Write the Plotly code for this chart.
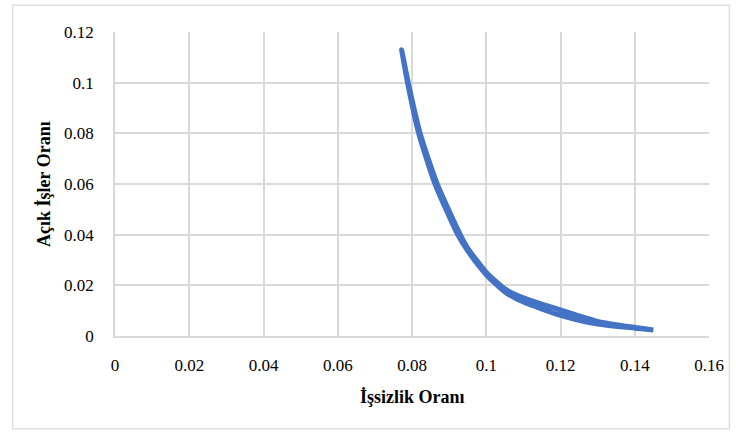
import plotly.graph_objects as go

# Branch going down (upper/right edge of the band)
x_down = [0.0772, 0.0790, 0.0822, 0.0868, 0.0930, 0.0950, 0.1000, 0.1050, 0.1100, 0.1200, 0.1300, 0.1400, 0.1450]
y_down = [0.1130, 0.1000, 0.0800, 0.0600, 0.0400, 0.0347, 0.0252, 0.0186, 0.0151, 0.0103, 0.0058, 0.0034, 0.0024]
# Branch coming back (lower/left edge of the band)
x_back = [0.1450, 0.1400, 0.1300, 0.1200, 0.1100, 0.1050, 0.1000, 0.0950, 0.0925, 0.0862, 0.0818, 0.0788, 0.0772]
y_back = [0.0024, 0.0031, 0.0047, 0.0082, 0.0134, 0.0174, 0.0242, 0.0336, 0.0395, 0.0600, 0.0800, 0.1000, 0.1130]

x_ticks = [0, 0.02, 0.04, 0.06, 0.08, 0.1, 0.12, 0.14, 0.16]
x_tick_labels = ["0", "0.02", "0.04", "0.06", "0.08", "0.1", "0.12", "0.14", "0.16"]
y_ticks = [0, 0.02, 0.04, 0.06, 0.08, 0.1, 0.12]
y_tick_labels = ["0", "0.02", "0.04", "0.06", "0.08", "0.1", "0.12"]

x_title = "İşsizlik Oranı"
y_title = "Açık İşler Oranı"

FONT = "Book Antiqua, Palatino Linotype, Liberation Serif, serif"
BLUE = "#4472C4"
GRID = "#D9D9D9"

L, R, T, B = 115, 23, 32, 95.5
pw = 736 - L - R
ph = 432 - T - B

fig = go.Figure()
fig.add_trace(go.Scatter(x=x_down + x_back, y=y_down + y_back, mode="lines",
                         line=dict(color=BLUE, width=5, shape="spline", smoothing=0.6),
                         showlegend=False, hoverinfo="skip"))

fig.update_layout(
    width=736, height=432,
    margin=dict(l=L, r=R, t=T, b=B, pad=0),
    paper_bgcolor="white", plot_bgcolor="white",
    font=dict(family=FONT, size=17, color="#000000"),
    showlegend=False,
    xaxis=dict(range=[0, 0.16], tickvals=x_ticks, ticktext=x_tick_labels,
               showgrid=True, gridcolor=GRID, gridwidth=1.5, zeroline=False,
               showline=True, linecolor=GRID, linewidth=1.5,
               ticks="", ticklabelstandoff=13, fixedrange=True),
    yaxis=dict(range=[0, 0.12], tickvals=y_ticks, ticktext=y_tick_labels,
               showgrid=True, gridcolor=GRID, gridwidth=1.5, zeroline=False,
               showline=True, linecolor=GRID, linewidth=1.5,
               ticks="", ticklabelstandoff=16, fixedrange=True),
    annotations=[
        dict(text="<b>" + x_title + "</b>", x=0.5, y=(336.5 - 398) / ph, xref="paper", yref="paper",
             showarrow=False, font=dict(family=FONT, size=18), xanchor="center", yanchor="middle"),
        dict(text="<b>" + y_title + "</b>", x=(43.5 - L) / pw, y=0.5, xref="paper", yref="paper",
             showarrow=False, font=dict(family=FONT, size=18), textangle=-90,
             xanchor="center", yanchor="middle"),
    ],
)

# chart border
fig.add_shape(type="rect", xref="paper", yref="paper",
              x0=(12 - L) / pw, x1=(733.5 - L) / pw,
              y0=(336.5 - 429.5) / ph, y1=(336.5 - 5) / ph,
              line=dict(color=GRID, width=1.2), fillcolor="rgba(0,0,0,0)", layer="below")

fig.write_html("out.html", config={"displayModeBar": False},
               post_script="document.body.style.margin='0';")
